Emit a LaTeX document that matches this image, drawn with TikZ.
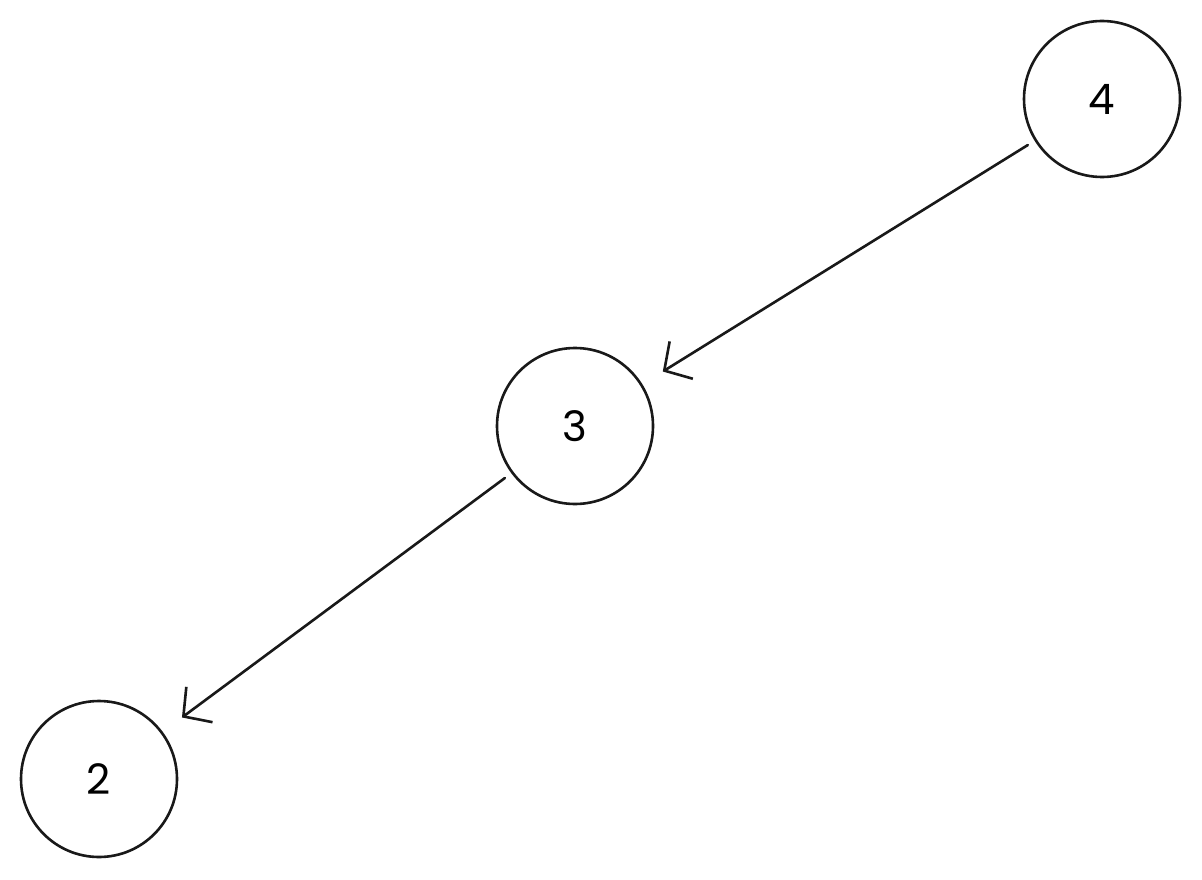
\documentclass[tikz,border=0pt]{standalone}
\usepackage{fontspec}
\setmainfont{Poppins}
\usetikzlibrary{arrows.meta}
\begin{document}
\begin{tikzpicture}[x=1pt,y=-1pt,
  nd/.style={circle,draw=black!90,line width=2.6pt,minimum size=156pt,inner sep=0pt,font=\fontsize{42}{42}\selectfont},
  ed/.style={line width=2.6pt,draw=black!90,-{Straight Barb[length=20pt,width=44pt,line width=2.6pt]},shorten <=8pt,shorten >=24pt,line cap=round}]
\useasboundingbox (0,0) rectangle (1202,880);
\fill[white] (0,0) rectangle (1202,880);
\node[nd] (n4) at (1102,99) {4};
\node[nd] (n3) at (575,426) {3};
\node[nd] (n2) at (99,779) {2};
\draw[ed] (n4) -- (n3);
\draw[ed] (n3) -- (n2);
\end{tikzpicture}
\end{document}
